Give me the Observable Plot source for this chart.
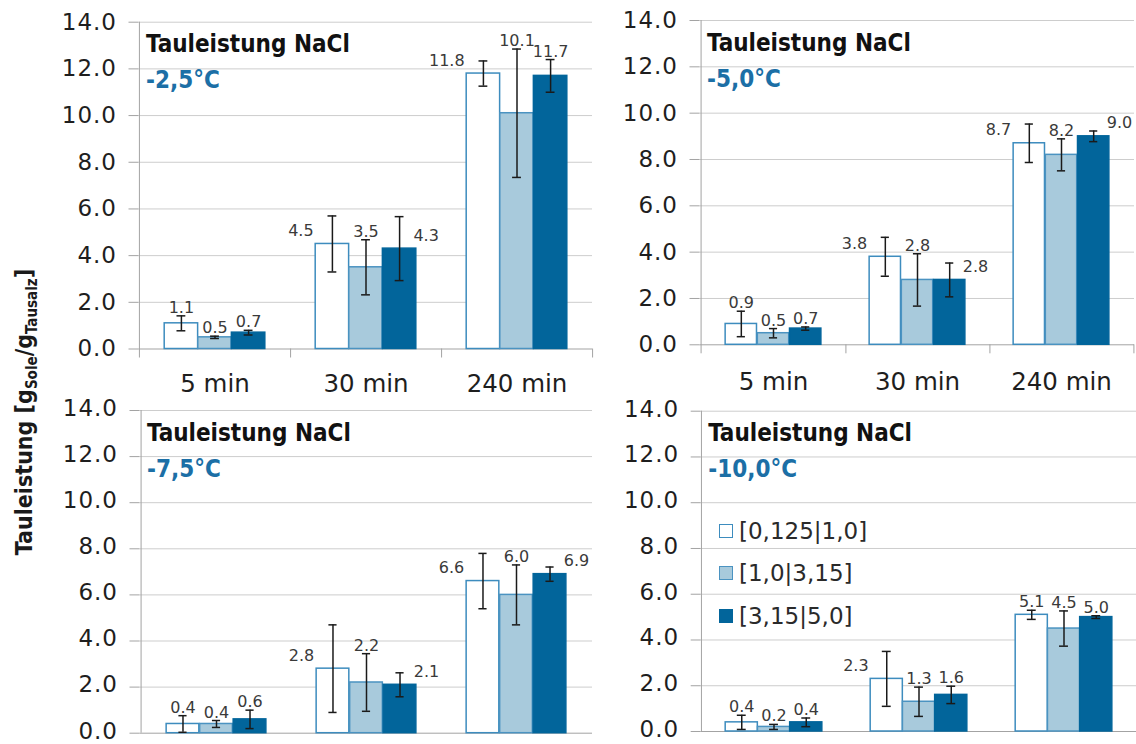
<!DOCTYPE html>
<html>
<head>
<meta charset="utf-8">
<script src="https://cdn.jsdelivr.net/npm/d3@7"></script>
<script src="https://cdn.jsdelivr.net/npm/@observablehq/plot@0.6"></script>
<style>
  body { margin: 0; background: #fff; }
  #chart { position: relative; width: 1136px; height: 744px; overflow: hidden; background: #fff; font-family: "DejaVu Sans", sans-serif; }
  #chart svg { position: absolute; }
  #ytitle {
    position: absolute; left: 24px; top: 412px;
    transform: translate(-50%, -50%) rotate(-90deg);
    white-space: nowrap; color: #1a1a1a;
    font-family: "DejaVu Sans Condensed", "DejaVu Sans", sans-serif; font-stretch: condensed;
    font-weight: bold; font-size: 23px;
  }
  #ytitle sub { font-size: 15px; vertical-align: -0.3em; line-height: 0; }
  .legend { position: absolute; left: 719px; top: 517px; }
  .legend .row { display: flex; align-items: center; height: 28px; margin-bottom: 14.3px; }
  .legend .sw { width: 12px; height: 12px; border: 1.5px solid #3d8cbe; box-sizing: content-box; }
  .legend .lab { margin-left: 6px; font-size: 23px; color: #2a2a2a; font-family: "DejaVu Sans", sans-serif; }
</style>
</head>
<body>
<div id="chart"></div>
<script>
// Categories and series
const times = ["5 min", "30 min", "240 min"];
const series = ["[0,125|1,0]", "[1,0|3,15]", "[3,15|5,0]"];
const temps = ["-2,5°C", "-5,0°C", "-7,5°C", "-10,0°C"];
const panelTitle = "Tauleistung NaCl";
const yTicks = [0, 2, 4, 6, 8, 10, 12, 14];
const yDomain = [0, 14];

// Mean thaw performance [g brine / g de-icing salt], rows = times, columns = series
const valuesM25 = [[1.1, 0.5, 0.7], [4.5, 3.5, 4.3], [11.8, 10.1, 11.7]];
const errorsM25 = [[0.32, 0.05, 0.1], [1.2, 1.18, 1.37], [0.54, 2.75, 0.7]];
const valuesM50 = [[0.9, 0.5, 0.7], [3.8, 2.8, 2.8], [8.7, 8.2, 9.0]];
const errorsM50 = [[0.55, 0.2, 0.07], [0.84, 1.13, 0.73], [0.83, 0.69, 0.23]];
const valuesM75 = [[0.4, 0.4, 0.6], [2.8, 2.2, 2.1], [6.6, 6.0, 6.9]];
const errorsM75 = [[0.36, 0.15, 0.4], [1.9, 1.25, 0.52], [1.2, 1.3, 0.31]];
const valuesM100 = [[0.4, 0.2, 0.4], [2.3, 1.3, 1.6], [5.1, 4.5, 5.0]];
const errorsM100 = [[0.31, 0.11, 0.19], [1.2, 0.64, 0.38], [0.2, 0.77, 0.06]];

// Where each value label sits relative to its bar
const placesM25 = [["top", "top", "top"], ["left", "top", "right"], ["left", "top", "top"]];
const placesM50 = [["top", "top", "top"], ["left", "top", "right"], ["left", "top", "right"]];
const placesM75 = [["top", "top", "top"], ["left", "top", "right"], ["left", "top", "right"]];
const placesM100 = [["top", "top", "top"], ["left", "top", "top"], ["top", "top", "top"]];

const fills = ["#ffffff", "#a8cadc", "#02659b"];
const strokes = ["#3d8cbe", "#4b93c1", "#02659b"];
const axisGray = "#a3a3a3";
const gridGray = "#cdcdcd";
const tempBlue = "#1c6fa6";
const condensed = "DejaVu Sans Condensed";

const chart = document.getElementById("chart");

function panel(cfg) {
  const {temp, values, errors, places, left, top, width, height, margin, showX, xPad, yLabelShift} = cfg;
  const innerW = width - margin.left - margin.right;
  const bw = innerW / times.length;       // category band
  const barW = bw * 2 / 9;                // three touching bars fill 2/3 of a band
  const side = (bw - barW) / 2;
  const capHalf = 4.5;

  const rows = [];
  times.forEach((t, i) => series.forEach((s, j) => rows.push({
    time: t, series: s, j, value: values[i][j], err: errors[i][j], place: places[i][j]
  })));

  const marks = [
    Plot.gridY(yTicks.slice(1), {stroke: gridGray, strokeOpacity: 1}),
    Plot.axisY(yTicks, {
      tickFormat: d => d.toFixed(1), tickSize: 10, tickPadding: 12,
      stroke: axisGray, color: "#1e1e1e", fontSize: 23, label: null
    }),
    Plot.ruleY([0], {stroke: axisGray})
  ];

  // vertical axis line (extends into the first category tick when ticks are shown)
  marks.push(Plot.ruleX([times[0]], {
    x: d => d, dx: -bw / 2, y1: yDomain[1], y2: yDomain[0],
    insetBottom: showX ? -9 : 0, stroke: axisGray
  }));
  if (showX) {
    // category separator ticks below the baseline
    marks.push(Plot.ruleX(times, {x: d => d, dx: bw / 2, y1: yDomain[0], y2: yDomain[0], insetBottom: -9, stroke: axisGray}));
    marks.push(Plot.axisX({tickSize: 0, tickPadding: xPad, fontSize: 24.5, color: "#1e1e1e", label: null}));
  }

  series.forEach((s, j) => {
    const rj = rows.filter(d => d.j === j);
    const o = (j - 1) * barW;
    marks.push(Plot.barY(rj, {
      x: "time", y: "value", fill: fills[j], stroke: strokes[j], strokeWidth: 1.5,
      insetLeft: side + o, insetRight: side - o
    }));
    // error bars with caps
    marks.push(Plot.ruleX(rj, {x: "time", y1: d => d.value - d.err, y2: d => d.value + d.err, dx: o, stroke: "#1a1a1a", strokeWidth: 1.5}));
    marks.push(Plot.tickY(rj, {x: "time", y: d => d.value + d.err, dx: o, insetLeft: bw / 2 - capHalf, insetRight: bw / 2 - capHalf, stroke: "#1a1a1a", strokeWidth: 1.5}));
    marks.push(Plot.tickY(rj, {x: "time", y: d => d.value - d.err, dx: o, insetLeft: bw / 2 - capHalf, insetRight: bw / 2 - capHalf, stroke: "#1a1a1a", strokeWidth: 1.5}));
    // value labels
    const labelStyle = {text: d => d.value.toFixed(1), fontSize: 16, fill: "#3a3a3a", lineAnchor: "bottom"};
    marks.push(Plot.text(rj.filter(d => d.place === "top"), {
      ...labelStyle, x: "time", y: d => d.value + d.err, dx: o, dy: -3
    }));
    marks.push(Plot.text(rj.filter(d => d.place === "left"), {
      ...labelStyle, x: "time", y: "value", dx: o - barW / 2 - 2, dy: -8, textAnchor: "end"
    }));
    marks.push(Plot.text(rj.filter(d => d.place === "right"), {
      ...labelStyle, x: "time", y: "value", dx: o + barW / 2 - 3, dy: -8, textAnchor: "start"
    }));
  });

  // panel heading
  marks.push(Plot.text([panelTitle], {
    text: d => d, frameAnchor: "top-left", dx: 7, dy: 13.2, textAnchor: "start", lineAnchor: "top",
    fontSize: 24, fontWeight: "bold", fontFamily: condensed, fill: "#111"
  }));
  marks.push(Plot.text([temp], {
    text: d => d, frameAnchor: "top-left", dx: 7, dy: 49.2, textAnchor: "start", lineAnchor: "top",
    fontSize: 24, fontWeight: "bold", fontFamily: condensed, fill: tempBlue
  }));

  const svg = Plot.plot({
    width, height,
    marginTop: margin.top, marginRight: margin.right, marginBottom: margin.bottom, marginLeft: margin.left,
    x: {domain: times, padding: 0, axis: null},
    y: {domain: yDomain, axis: null},
    style: {background: "transparent", overflow: "visible", fontFamily: "DejaVu Sans, sans-serif", fontSize: "16px"},
    marks
  });
  svg.style.left = left + "px";
  svg.style.top = top + "px";
  const tickLabels = d3.select(svg).selectAll("g[aria-label='y-axis tick label']");
  tickLabels.selectAll("text").attr("letter-spacing", "1px");
  // lower panels sit at the page edge: nudge their tick labels up slightly
  if (yLabelShift) tickLabels.attr("transform", function () {
    const t = this.getAttribute("transform") || "";
    return t + ` translate(0,${yLabelShift})`;
  });
  chart.appendChild(svg);
}

panel({temp: temps[0], values: valuesM25, errors: errorsM25, places: placesM25,
  left: 0, top: 0, width: 600, height: 400, margin: {top: 21.7, right: 8, bottom: 51.5, left: 138.5}, showX: true, xPad: 26});
panel({temp: temps[1], values: valuesM50, errors: errorsM50, places: placesM50,
  left: 560, top: 0, width: 576, height: 400, margin: {top: 20, right: 2, bottom: 55.7, left: 139.5}, showX: true, xPad: 28});
panel({temp: temps[2], values: valuesM75, errors: errorsM75, places: placesM75,
  left: 0, top: 390, width: 600, height: 354, margin: {top: 20, right: 8, bottom: 11.3, left: 139.5}, showX: false, yLabelShift: -2});
panel({temp: temps[3], values: valuesM100, errors: errorsM100, places: placesM100,
  left: 560, top: 390, width: 576, height: 354, margin: {top: 20.7, right: 0, bottom: 13, left: 140.7}, showX: false, yLabelShift: -2});

// shared y-axis title
const yt = document.createElement("div");
yt.id = "ytitle";
yt.innerHTML = "Tauleistung [g<sub>Sole</sub>/g<sub>Tausalz</sub>]";
chart.appendChild(yt);

// series legend inside the -10,0 °C panel
const legend = document.createElement("div");
legend.className = "legend";
series.forEach((s, j) => {
  const row = document.createElement("div");
  row.className = "row";
  const sw = document.createElement("div");
  sw.className = "sw";
  sw.style.background = fills[j];
  sw.style.borderColor = strokes[j];
  const lab = document.createElement("span");
  lab.className = "lab";
  lab.textContent = s;
  row.appendChild(sw);
  row.appendChild(lab);
  legend.appendChild(row);
});
chart.appendChild(legend);
</script>
</body>
</html>
